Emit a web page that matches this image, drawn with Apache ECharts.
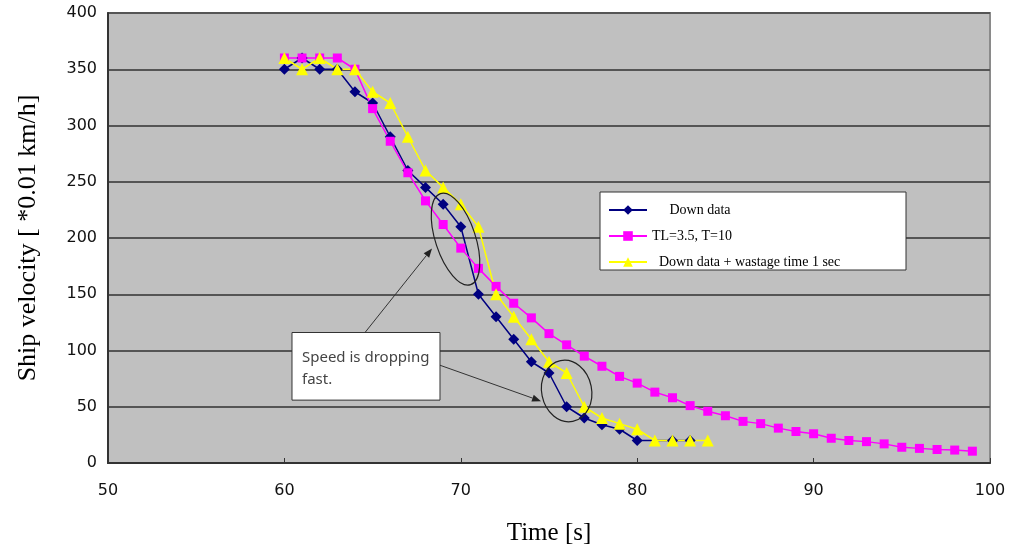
<!DOCTYPE html>
<html>
<head>
<meta charset="utf-8">
<script src="https://cdn.jsdelivr.net/npm/echarts@6/dist/echarts.min.js"></script>
<style>
  html, body { margin: 0; padding: 0; background: #fff; }
  #main { width: 1021px; height: 551px; }
</style>
</head>
<body>
<div id="main"></div>
<script>
// time [s] and velocity [*0.01 km/h]
var downX = [60,61,62,63,64,65,66,67,68,69,70,71,72,73,74,75,76,77,78,79,80,82,83];
var downY = [350,360,350,350,330,320,290,260,245,230,210,150,130,110,90,80,50,40,34,30,20,20,20];

var modelX = [60,61,62,63,64,65,66,67,68,69,70,71,72,73,74,75,76,77,78,79,
              80,81,82,83,84,85,86,87,88,89,90,91,92,93,94,95,96,97,98,99];
var modelY = [360,360,360,360,350,315,286,258,233,212,191,173,157,142,129,115,105,95,86,77,
              71,63,58,51,46,42,37,35,31,28,26,22,20,19,17,14,13,12,11.5,10.5];

var wasteX = [60,61,62,63,64,65,66,67,68,69,70,71,72,73,74,75,76,77,78,79,80,81,82,83,84];
var wasteY = [360,350,360,350,350,330,320,290,260,245,230,210,150,130,110,90,80,50,40,35,30,20,20,20,20];

var seriesNames = ['     Down data', 'TL=3.5, T=10', '  Down data + wastage time 1 sec'];
var xTicks = [50, 60, 70, 80, 90, 100];
var yTicks = [0, 50, 100, 150, 200, 250, 300, 350, 400];

function pairs(xs, ys) {
	var out = [];
	for (var i = 0; i < xs.length; i++) {
		out.push([xs[i], ys[i]]);
	}
	return out;
}

var serif = '"Liberation Serif", "DejaVu Serif", serif';
var sans = '"DejaVu Sans", "Liberation Sans", sans-serif';

var myChart = echarts.init(document.getElementById('main'));

var option = {
	animation: false,
	grid: {
		left: 108,
		right: 31,
		top: 13,
		bottom: 87,
		show: true,
		backgroundColor: '#C0C0C0',
		borderColor: '#8a8a8a',
		borderWidth: 2
	},
	legend: {
		orient: 'vertical',
		left: 603,
		top: 198,
		itemWidth: 38,
		itemHeight: 12,
		itemGap: 12,
		z: 20,
		textStyle: {
			fontFamily: serif,
			fontSize: 14,
			color: '#000'
		},
		data: seriesNames
	},
	xAxis: {
		type: 'value',
		min: xTicks[0],
		max: xTicks[xTicks.length - 1],
		interval: 10,
		name: 'Time [s]',
		nameLocation: 'middle',
		nameGap: 58,
		nameTextStyle: { fontFamily: serif, fontSize: 25, color: '#000' },
		axisLine: { show: true, lineStyle: { color: '#333', width: 2 } },
		axisTick: { show: true, inside: true, length: 5, lineStyle: { color: '#333' } },
		axisLabel: { fontFamily: sans, fontSize: 16, color: '#111', margin: 20 },
		splitLine: { show: false }
	},
	yAxis: {
		type: 'value',
		min: yTicks[0],
		max: yTicks[yTicks.length - 1],
		interval: 50,
		name: 'Ship velocity [ *0.01 km/h]',
		nameLocation: 'middle',
		nameGap: 67,
		nameTextStyle: { fontFamily: serif, fontSize: 26, color: '#000' },
		axisLine: { show: true, lineStyle: { color: '#333', width: 2 } },
		axisTick: { show: false },
		axisLabel: { fontFamily: sans, fontSize: 16, color: '#111', margin: 11 },
		splitLine: { show: true, lineStyle: { color: '#555', width: 2 } }
	},
	series: [{
		name: seriesNames[0],
		type: 'line',
		data: pairs(downX, downY),
		symbol: 'diamond',
		symbolSize: 11,
		color: '#000080',
		lineStyle: { width: 1.5, color: '#000080' },
		itemStyle: { color: '#000080' }
	}, {
		name: seriesNames[1],
		type: 'line',
		data: pairs(modelX, modelY),
		symbol: 'rect',
		symbolSize: 9,
		color: '#FF00FF',
		lineStyle: { width: 1.5, color: '#FF00FF' },
		itemStyle: { color: '#FF00FF' }
	}, {
		name: seriesNames[2],
		type: 'line',
		data: pairs(wasteX, wasteY),
		symbol: 'triangle',
		symbolSize: 12,
		color: '#FFFF00',
		lineStyle: { width: 1.5, color: '#FFFF00' },
		itemStyle: { color: '#FFFF00' }
	}]
};

myChart.setOption(option);

// annotation anchors in data space
var ell1 = { c: [69.7, 199], rx: 20, ry: 48, rot: 0.32 };
var ell2 = { c: [76.0, 64], rx: 25, ry: 31, rot: 0.2 };
var boxTL = [60.43, 116];
var boxBR = [68.82, 55.9];
var arrow1 = [[64.57, 116], [68.37, 190.7]];
var arrow2 = [[68.82, 86.9], [74.55, 55]];

function px(p) {
	return myChart.convertToPixel({ gridIndex: 0 }, p);
}

function arrowEls(a) {
	var p0 = px(a[0]), p1 = px(a[1]);
	var ang = Math.atan2(p1[1] - p0[1], p1[0] - p0[0]);
	var len = 9, w = 3.5;
	var bx = p1[0] - len * Math.cos(ang), by = p1[1] - len * Math.sin(ang);
	return [{
		type: 'line',
		z: 30,
		shape: { x1: p0[0], y1: p0[1], x2: bx, y2: by },
		style: { stroke: '#333', lineWidth: 1 }
	}, {
		type: 'polygon',
		z: 30,
		shape: { points: [
			[p1[0], p1[1]],
			[bx + w * Math.sin(ang), by - w * Math.cos(ang)],
			[bx - w * Math.sin(ang), by + w * Math.cos(ang)]
		] },
		style: { fill: '#222' }
	}];
}

function ellipseEl(e) {
	var c = px(e.c);
	return {
		type: 'ellipse',
		z: 30,
		x: c[0],
		y: c[1],
		rotation: e.rot,
		shape: { cx: 0, cy: 0, rx: e.rx, ry: e.ry },
		style: { fill: null, stroke: '#222', lineWidth: 1.2 }
	};
}

var tl = px(boxTL), br = px(boxBR);
var graphics = [{
	type: 'rect',
	z: 5,
	shape: { x: 600, y: 192, width: 306, height: 78 },
	style: { fill: '#fff', stroke: '#333', lineWidth: 1 }
}, {
	type: 'rect',
	z: 31,
	shape: { x: tl[0], y: tl[1], width: br[0] - tl[0], height: br[1] - tl[1] },
	style: { fill: '#fff', stroke: '#333', lineWidth: 1 }
}, {
	type: 'text',
	z: 32,
	x: tl[0] + 10,
	y: tl[1] + 14,
	style: {
		text: 'Speed is dropping\nfast.',
		font: '15px "Noto Sans", sans-serif',
		lineHeight: 22,
		fill: '#444'
	}
}, ellipseEl(ell1), ellipseEl(ell2)];
graphics = graphics.concat(arrowEls(arrow1), arrowEls(arrow2));

myChart.setOption({ graphic: graphics });
</script>
</body>
</html>
